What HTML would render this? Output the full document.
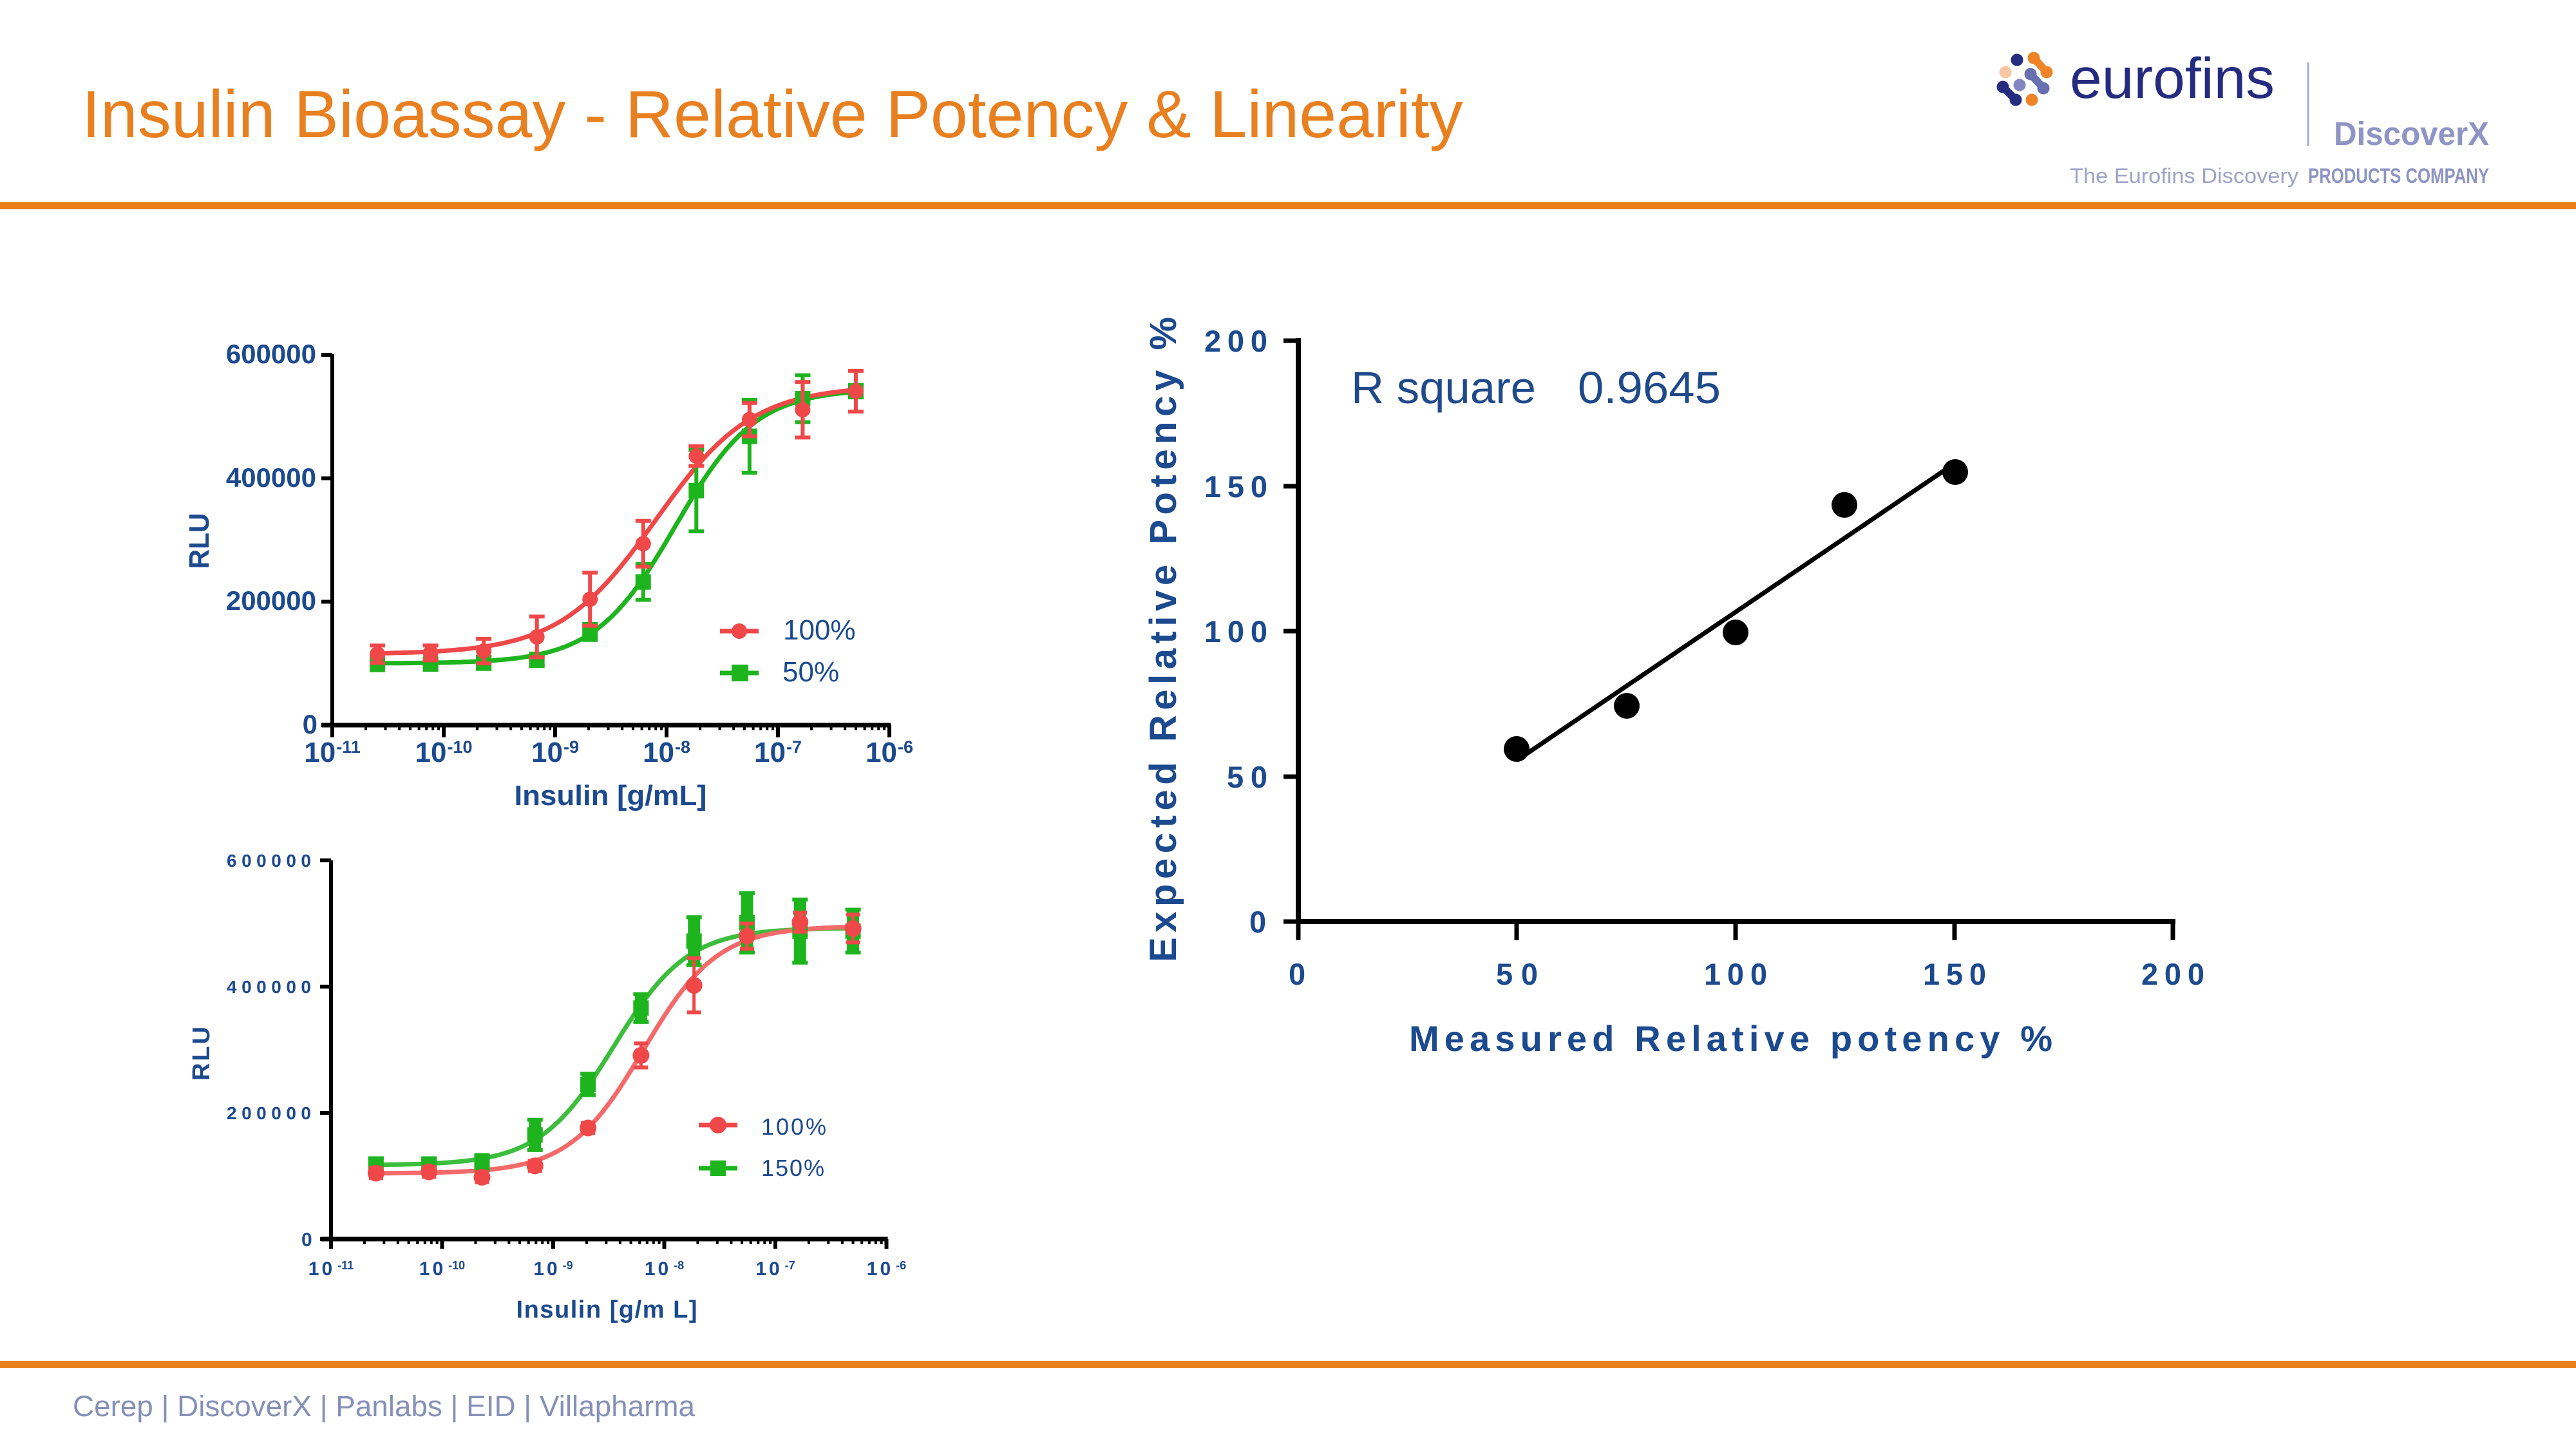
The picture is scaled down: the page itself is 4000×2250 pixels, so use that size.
<!DOCTYPE html>
<html><head><meta charset="utf-8"><style>
html,body{margin:0;padding:0;background:#fff;}
svg{display:block;}
text{font-family:"Liberation Sans",Arial,sans-serif;}
</style></head><body>
<svg id="s" xmlns="http://www.w3.org/2000/svg" width="4000" height="2250" viewBox="0 0 4000 2250">
<rect width="4000" height="2250" fill="#fff"/>
<!-- header -->
<text x="127" y="213" font-size="104" fill="#E98020">Insulin Bioassay - Relative Potency &amp; Linearity</text>
<rect x="0" y="314" width="4000" height="11" fill="#E8801A"/>
<rect x="0" y="2113" width="4000" height="11" fill="#E8801A"/>
<text x="113" y="2199" font-size="45" fill="#8590B8" textLength="966" lengthAdjust="spacingAndGlyphs">Cerep | DiscoverX | Panlabs | EID | Villapharma</text>
<!-- logo -->
<g>
  <line x1="3158" y1="90" x2="3178" y2="112" stroke="#EE8427" stroke-width="12" stroke-linecap="round"/>
  <circle cx="3158" cy="90" r="9.5" fill="#EE8427"/><circle cx="3178" cy="112" r="9.5" fill="#EE8427"/>
  <circle cx="3132" cy="93" r="9.5" fill="#262C7F"/>
  <circle cx="3114" cy="112" r="9.5" fill="#F7C6A2"/>
  <line x1="3153" y1="115" x2="3173" y2="137" stroke="#6870B0" stroke-width="12" stroke-linecap="round"/>
  <circle cx="3153" cy="115" r="9.5" fill="#6870B0"/><circle cx="3173" cy="137" r="9.5" fill="#6870B0"/>
  <circle cx="3136" cy="132" r="9.5" fill="#8187C0"/>
  <line x1="3110" y1="135" x2="3130" y2="155" stroke="#262C7F" stroke-width="12" stroke-linecap="round"/>
  <circle cx="3110" cy="135" r="9.5" fill="#262C7F"/><circle cx="3130" cy="155" r="9.5" fill="#262C7F"/>
  <circle cx="3155" cy="155" r="9.5" fill="#EE8427"/>
</g>
<text x="3214" y="152" font-size="89" fill="#252B7E" textLength="318" lengthAdjust="spacingAndGlyphs">eurofins</text>
<line x1="3584" y1="97" x2="3584" y2="227" stroke="#A8ABCF" stroke-width="3"/>
<text x="3624" y="225" font-size="51" font-weight="bold" fill="#8E94C4" textLength="241" lengthAdjust="spacingAndGlyphs">DiscoverX</text>
<text x="3214" y="284" font-size="32" fill="#9DA2C8" textLength="355" lengthAdjust="spacingAndGlyphs">The Eurofins Discovery</text>
<text x="3584" y="284" font-size="32" font-weight="bold" fill="#8E94C4" textLength="281" lengthAdjust="spacingAndGlyphs">PRODUCTS COMPANY</text>

<!-- ============ Chart 1 static text ============ -->
<g fill="#1C4A8E" font-weight="bold">
  <text x="491" y="564" font-size="42" text-anchor="end">600000</text>
  <text x="491" y="756" font-size="42" text-anchor="end">400000</text>
  <text x="491" y="947" font-size="42" text-anchor="end">200000</text>
  <text x="493" y="1139" font-size="42" text-anchor="end">0</text>
  <text transform="translate(324,840) rotate(-90)" font-size="44" text-anchor="middle" textLength="87" lengthAdjust="spacingAndGlyphs">RLU</text>
  <text x="948" y="1250" font-size="44" text-anchor="middle" textLength="299" lengthAdjust="spacingAndGlyphs">Insulin [g/mL]</text>
</g>
<g id="xl1" fill="#1C4A8E" font-weight="bold"></g>
<!-- legend 1 -->
<line x1="1118" y1="980" x2="1178" y2="980" stroke="#F04848" stroke-width="7"/>
<circle cx="1148" cy="980" r="12" fill="#F04848"/>
<line x1="1118" y1="1045" x2="1178" y2="1045" stroke="#1DB41D" stroke-width="7"/>
<rect x="1136" y="1032" width="26" height="26" fill="#1DB41D"/>
<text x="1216" y="993" font-size="44" fill="#1C4A8E">100%</text>
<text x="1215" y="1058" font-size="44" fill="#1C4A8E">50%</text>

<!-- ============ Chart 2 static text ============ -->
<g fill="#1C4A8E" font-weight="bold">
  <text x="352" y="1346" font-size="28" textLength="131" lengthAdjust="spacing">600000</text>
  <text x="352" y="1542" font-size="28" textLength="131" lengthAdjust="spacing">400000</text>
  <text x="352" y="1738" font-size="28" textLength="131" lengthAdjust="spacing">200000</text>
  <text x="468" y="1935" font-size="30">0</text>
  <text transform="translate(325,1636) rotate(-90)" font-size="38" text-anchor="middle" textLength="84" lengthAdjust="spacing">RLU</text>
  <text x="942" y="2046" font-size="38" text-anchor="middle" textLength="281" lengthAdjust="spacing">Insulin [g/m L]</text>
</g>
<g id="xl2" fill="#1C4A8E" font-weight="bold"></g>
<!-- legend 2 -->
<line x1="1085" y1="1747" x2="1145" y2="1747" stroke="#F04848" stroke-width="7"/>
<circle cx="1115" cy="1747" r="13" fill="#F04848"/>
<line x1="1085" y1="1814" x2="1145" y2="1814" stroke="#1DB41D" stroke-width="7"/>
<rect x="1103" y="1802" width="24" height="24" fill="#1DB41D"/>
<text x="1182" y="1762" font-size="36" fill="#1C4A8E" textLength="101" lengthAdjust="spacing">100%</text>
<text x="1182" y="1826" font-size="36" fill="#1C4A8E" textLength="98" lengthAdjust="spacing">150%</text>

<g id="c1"></g>
<g id="c2"></g>

<!-- ============ Right chart ============ -->
<g stroke="#000" stroke-width="8" fill="none">
  <line x1="2016" y1="525" x2="2016" y2="1435"/>
  <line x1="2012" y1="1431" x2="3378" y2="1431"/>
</g>
<g stroke="#000" stroke-width="7">
  <line x1="1993" y1="529" x2="2016" y2="529"/>
  <line x1="1993" y1="755" x2="2016" y2="755"/>
  <line x1="1993" y1="980" x2="2016" y2="980"/>
  <line x1="1993" y1="1206" x2="2016" y2="1206"/>
  <line x1="1993" y1="1431" x2="2016" y2="1431"/>
  <line x1="2016" y1="1431" x2="2016" y2="1460"/>
  <line x1="2355" y1="1431" x2="2355" y2="1460"/>
  <line x1="2695" y1="1431" x2="2695" y2="1460"/>
  <line x1="3035" y1="1431" x2="3035" y2="1460"/>
  <line x1="3374" y1="1431" x2="3374" y2="1460"/>
</g>
<g fill="#1C4A8E" font-weight="bold" font-size="47">
  <text x="1870" y="546" textLength="98" lengthAdjust="spacing">200</text>
  <text x="1870" y="772" textLength="98" lengthAdjust="spacing">150</text>
  <text x="1870" y="997" textLength="98" lengthAdjust="spacing">100</text>
  <text x="1905" y="1223" textLength="63" lengthAdjust="spacing">50</text>
  <text x="1940" y="1448">0</text>
  <text x="2001" y="1529">0</text>
  <text x="2323" y="1529" textLength="65" lengthAdjust="spacing">50</text>
  <text x="2646" y="1529" textLength="98" lengthAdjust="spacing">100</text>
  <text x="2986" y="1529" textLength="98" lengthAdjust="spacing">150</text>
  <text x="3325" y="1529" textLength="98" lengthAdjust="spacing">200</text>
  <text x="2188" y="1632" font-size="56" textLength="999" lengthAdjust="spacing">Measured Relative potency %</text>
  <text transform="translate(1826,993) rotate(-90)" font-size="58" text-anchor="middle" textLength="1002" lengthAdjust="spacing">Expected Relative Potency %</text>
</g>
<text x="2098" y="626" font-size="70" fill="#1F4A8A" textLength="287" lengthAdjust="spacingAndGlyphs">R square</text>
<text x="2450" y="626" font-size="70" fill="#1F4A8A" textLength="222" lengthAdjust="spacingAndGlyphs">0.9645</text>
<line x1="2355" y1="1181" x2="3036" y2="719" stroke="#000" stroke-width="7"/>
<g fill="#000">
  <circle cx="2355" cy="1163" r="20"/>
  <circle cx="2526" cy="1096" r="20"/>
  <circle cx="2695" cy="982" r="20"/>
  <circle cx="2864" cy="784" r="20"/>
  <circle cx="3036" cy="733" r="20"/>
</g>
</svg>
<script>
(function(){
var NS='http://www.w3.org/2000/svg';
function el(t,a,p){var e=document.createElementNS(NS,t);for(var k in a)e.setAttribute(k,a[k]);if(p)p.appendChild(e);return e;}
var concs=[];for(var i=0;i<10;i++)concs.push(5e-7/Math.pow(3,9-i));
function chart(g,cfg,xlg){
  var X=function(c){return cfg.x0+(Math.log10(c)+11)*cfg.dec;};
  var Y=function(v){return cfg.y0-v*cfg.ppk;};
  el('line',{x1:cfg.x0,y1:cfg.ytop,x2:cfg.x0,y2:cfg.y0+3,stroke:'#000','stroke-width':6},g);
  el('line',{x1:cfg.x0-16,y1:cfg.y0,x2:cfg.x0+5*cfg.dec+2,y2:cfg.y0,stroke:'#000','stroke-width':7},g);
  [0,200,400,600].forEach(function(v){el('line',{x1:cfg.x0-17,y1:Y(v),x2:cfg.x0,y2:Y(v),stroke:'#000','stroke-width':6},g);});
  for(var d=0;d<=5;d++){
    var xx=cfg.x0+d*cfg.dec;
    el('line',{x1:xx,y1:cfg.y0,x2:xx,y2:cfg.y0+cfg.maj,stroke:'#000','stroke-width':6},g);
    if(d<5)for(var m=2;m<=9;m++){var xm=cfg.x0+(d+Math.log10(m))*cfg.dec;
      el('line',{x1:xm,y1:cfg.y0,x2:xm,y2:cfg.y0+cfg.min,stroke:'#000','stroke-width':4},g);}
    var t=el('text',{x:xx,y:cfg.lbY,'font-size':cfg.lbF,'text-anchor':'middle'},xlg);
    var a=el('tspan',{'letter-spacing':cfg.lbLS},t);a.textContent='10';
    var b=el('tspan',{'font-size':cfg.supF,dy:-cfg.supDy,dx:cfg.supDx},t);b.textContent='-'+(11-d);
  }
  cfg.series.forEach(function(s){
    var pts=[],l0=Math.log10(concs[0]),l1=Math.log10(concs[9]);
    for(var k=0;k<=200;k++){var l=l0+(l1-l0)*k/200,c=Math.pow(10,l);
      var v=s.b+(s.t-s.b)/(1+Math.pow(s.ec/c,s.h));pts.push(X(c).toFixed(1)+','+Y(v).toFixed(1));}
    el('polyline',{points:pts.join(' '),fill:'none',stroke:s.lc,'stroke-width':7,'stroke-linejoin':'round'},g);
  });
  cfg.series.forEach(function(s){
    for(var i=0;i<10;i++){
      var x=X(concs[i]),v=s.v[i],e=s.e[i];
      var y1=Y(v+e),y2=Y(v-e);
      el('line',{x1:x,y1:y1,x2:x,y2:y2,stroke:s.c,'stroke-width':s.ebw},g);
      el('line',{x1:x-s.capw/2,y1:y1,x2:x+s.capw/2,y2:y1,stroke:s.c,'stroke-width':6},g);
      el('line',{x1:x-s.capw/2,y1:y2,x2:x+s.capw/2,y2:y2,stroke:s.c,'stroke-width':6},g);
      if(s.m==='c')el('circle',{cx:x,cy:Y(v),r:s.ms,fill:s.c},g);
      else el('rect',{x:x-s.ms,y:Y(v)-s.ms,width:2*s.ms,height:2*s.ms,fill:s.c},g);
    }
  });
}
chart(document.getElementById('c1'),{x0:516,dec:173,y0:1126,ytop:550,ppk:575/600,maj:19,min:8,
  lbY:1183,lbF:44,lbLS:0,supF:27,supDy:14,supDx:1,
  series:[
   {v:[99,99,101,106,151,232,380,468,529,541],e:[10,8,10,10,13,29,66,59,38,10],c:'#1DB41D',lc:'#1DB41D',b:100,t:545,ec:1.2e-8,h:1.2,m:'s',ms:12,ebw:6,capw:24},
   {v:[115,117,120,143,204,294,436,495,511,541],e:[14,12,20,33,43,37,16,27,45,33],c:'#F04848',lc:'#F04848',b:115,t:550,ec:8e-9,h:1,m:'c',ms:12,ebw:6,capw:24}
  ]},document.getElementById('xl1'));
chart(document.getElementById('c2'),{x0:514,dec:172.5,y0:1924,ytop:1336,ppk:588/600,maj:15,min:8,
  lbY:1980,lbF:30,lbLS:4,supF:18,supDy:9,supDx:4,
  series:[
   {v:[118,118,121,165,245,366,472,501,488,488],e:[10,10,12,24,17,22,38,47,50,34],c:'#1DB41D',lc:'#3CBE3C',b:117,t:493,ec:3.5e-9,h:1.3,m:'s',ms:12,ebw:19,capw:24},
   {v:[104.5,106.5,98,116,176,291,402,480,502,492],e:[8,8,8,8,8,19,43,20,15,22],c:'#F04848',lc:'#F46A6A',b:104,t:496,ec:6.5e-9,h:1.3,m:'c',ms:13,ebw:5,capw:22}
  ]},document.getElementById('xl2'));
})();
</script>
</body></html>
